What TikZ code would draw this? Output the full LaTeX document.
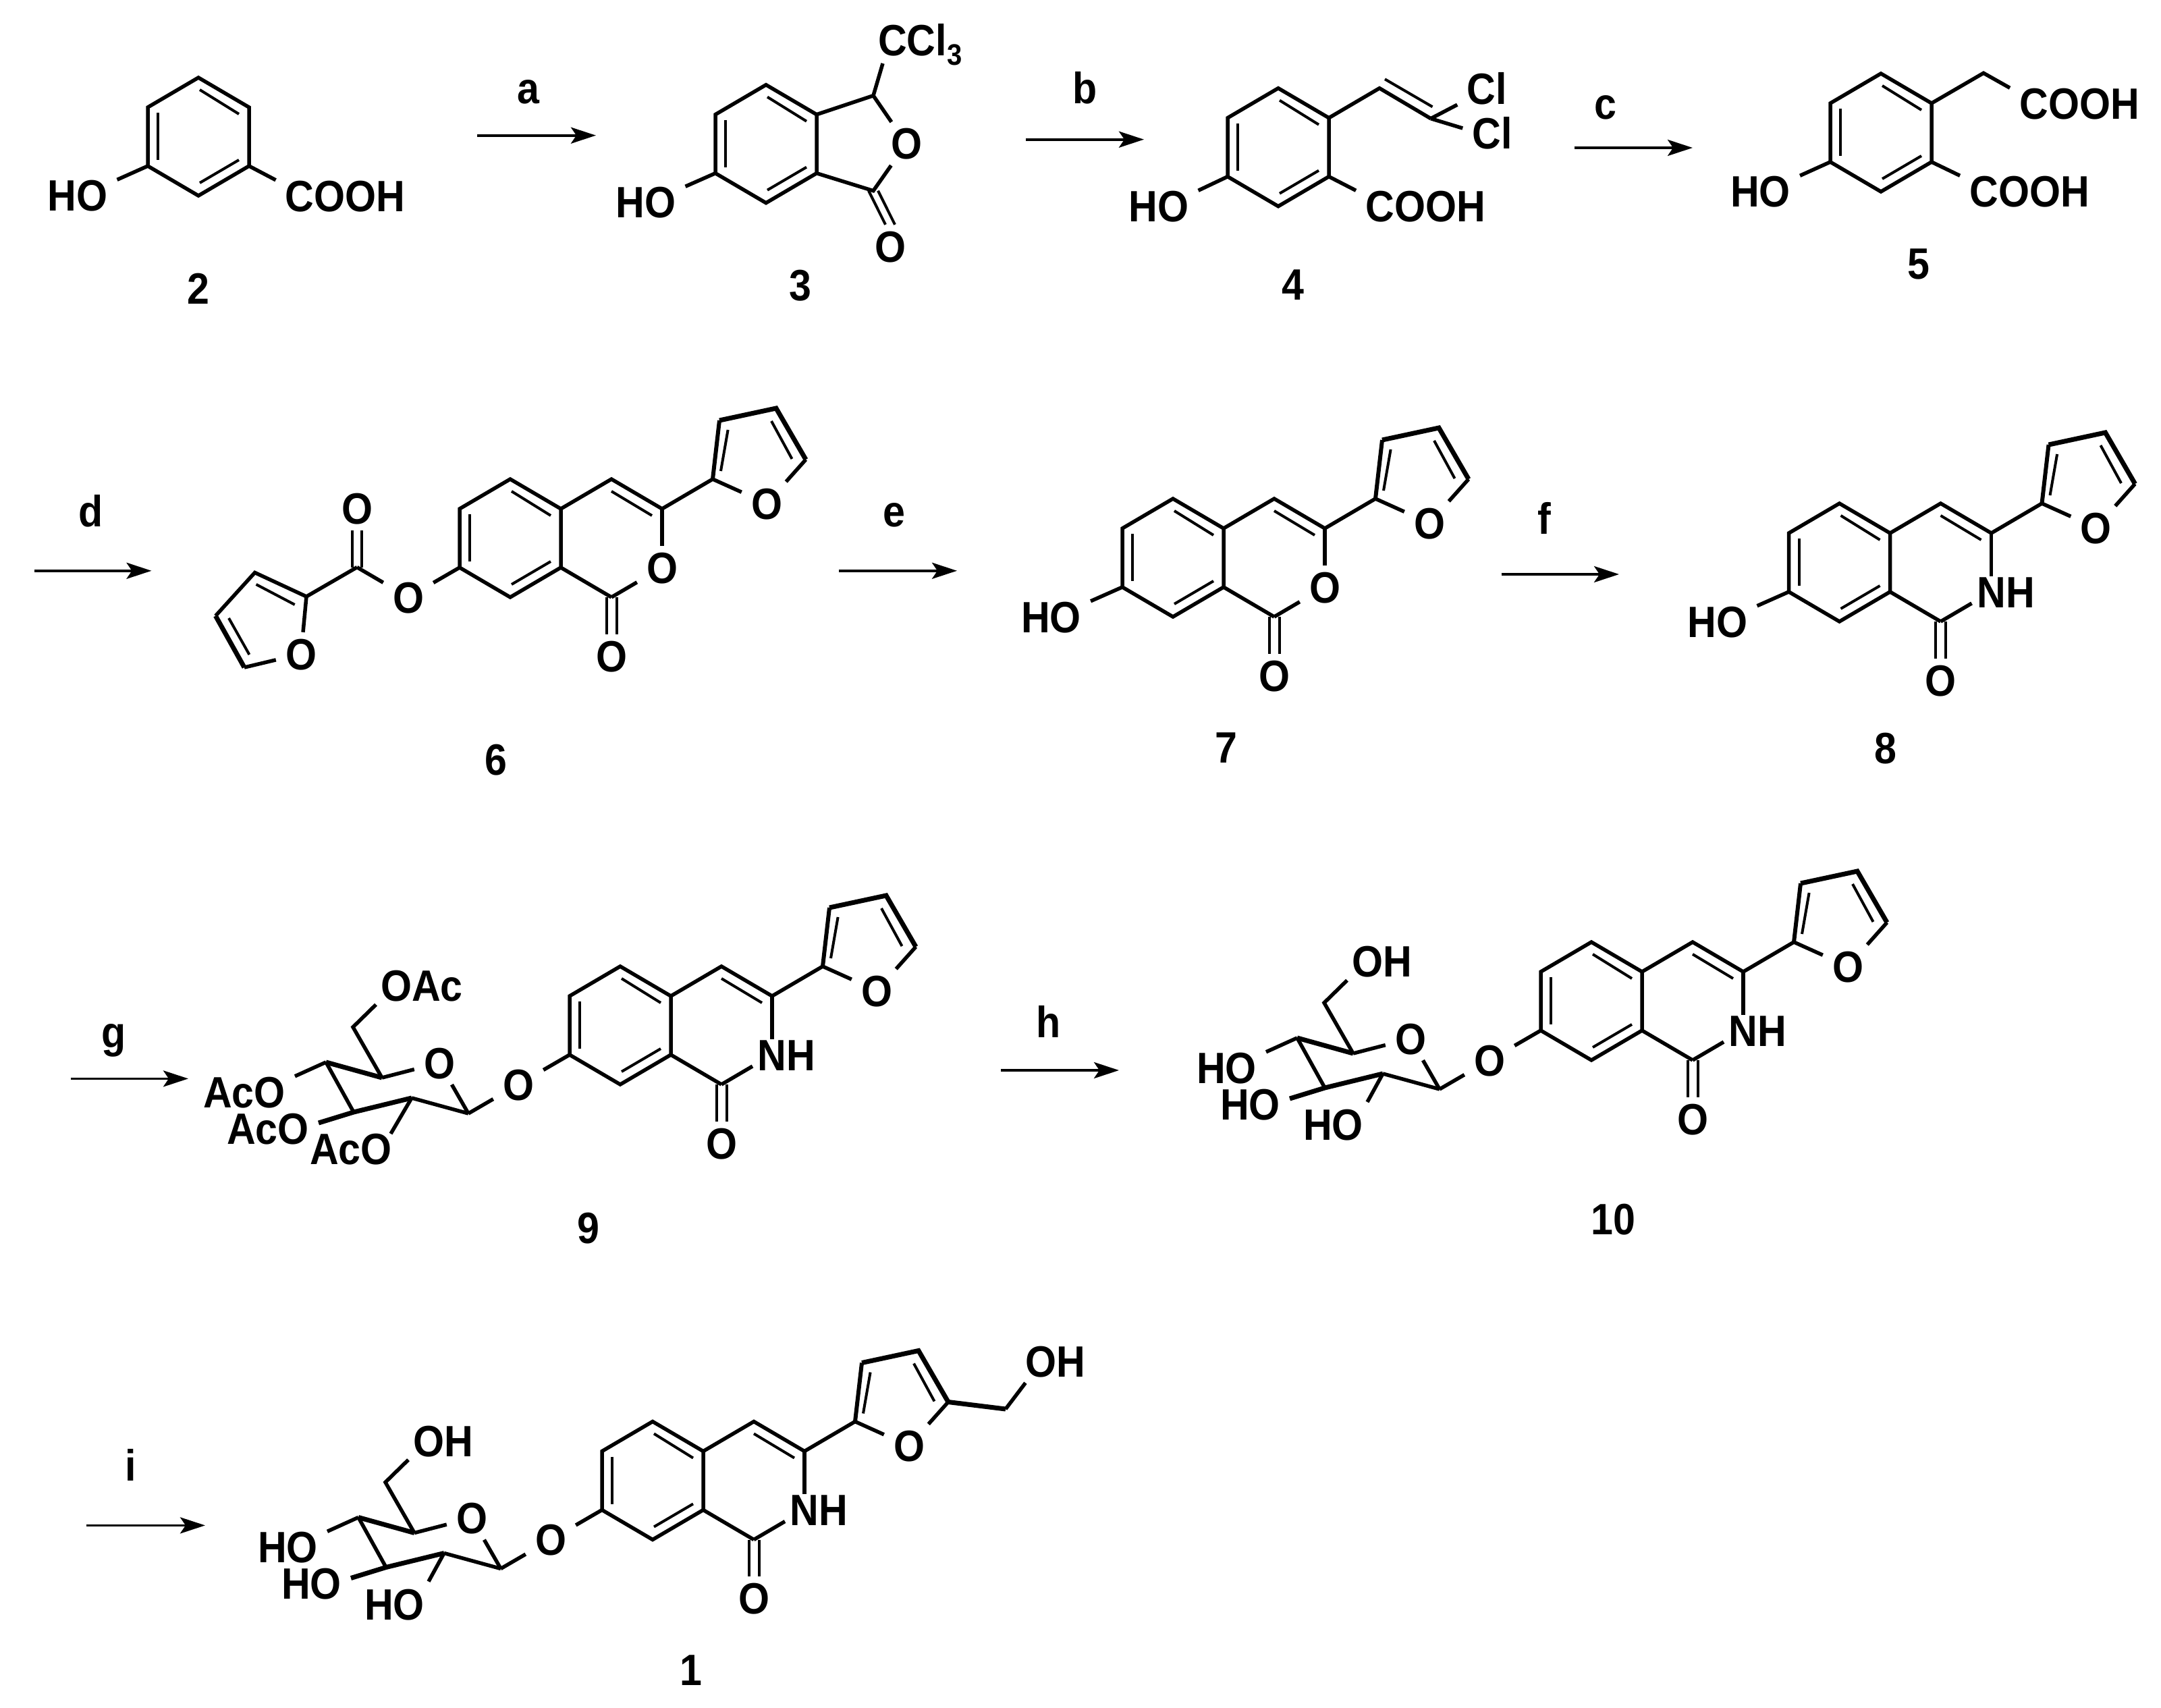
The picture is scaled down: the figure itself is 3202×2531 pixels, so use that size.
\documentclass[tikz,border=0pt]{standalone}
\usepackage{fontspec}
\setmainfont{Liberation Sans}[BoldFeatures={FakeStretch=0.91}]
\usetikzlibrary{arrows.meta}
\tikzset{
  bond/.style={line width=5.5pt,line join=miter,black},
  innerbond/.style={line width=4pt,black},
  boldbond/.style={line width=7pt,line join=miter,black},
  lab/.style={font=\fontsize{65}{65}\selectfont\bfseries,inner xsep=14pt,inner ysep=0pt,text height=46pt,text depth=0pt},
  atom/.style={font=\fontsize{65}{65}\selectfont\bfseries,inner sep=0pt,minimum width=74pt,minimum height=64pt,text height=46pt,text depth=0pt},
  letter/.style={font=\fontsize{65}{65}\selectfont\bfseries,inner sep=0pt,anchor=base},
  rxn/.style={line width=3.8pt,-{Stealth[length=37pt,width=24pt,inset=8pt]},black}
}
% benzene ring; T is the top atom
\newcommand\hexring{%
  \coordinate (T) at (0,0);
  \coordinate (RT) at (75,44);
  \coordinate (RB) at (75,131);
  \coordinate (B) at (0,175);
  \coordinate (LB) at (-75,131);
  \coordinate (LT) at (-75,44);
  \draw[bond] (T)--(RT)--(RB)--(B)--(LB)--(LT)--cycle;
  \draw[innerbond] (2,18)--(60,54);
  \draw[innerbond] (-60,52)--(-60,122);
  \draw[innerbond] (60,122)--(2,156);
}
% fused ring with furan
\newcommand\isoqcore{%
  \hexring
  \coordinate (C4) at (150,0);
  \coordinate (C3) at (225,44);
  \coordinate (C1) at (150,175);
  \coordinate (F2) at (300,0);
  \coordinate (F3) at (310,-87);
  \coordinate (F4) at (394,-105);
  \coordinate (F5) at (438,-29);
  \node[atom] (CO) at (150,262) {O};
  \node[atom] (FO) at (380,36) {O};
  \draw[bond] (RT)--(C4)--(C3)--(F2);
  \draw[bond] (RB)--(C1);
  \draw[innerbond] (150,18)--(210,54);
  \draw[innerbond] ([xshift=-7.5pt]C1)--([xshift=-7.5pt]CO.north);
  \draw[innerbond] ([xshift=7.5pt]C1)--([xshift=7.5pt]CO.north);
  \draw[bond] (F2)--(FO);
  \draw[bond] (F5)--(FO);
  \draw[bond,line width=6pt] (F2)--(F3);
  \draw[boldbond] (F3)--(F4)--(F5);
  \draw[innerbond] (322.6,-73)--(312,-12);
  \draw[innerbond] (387,-86)--(417.5,-30);
}
\newcommand\hetO{%
  \node[atom] (X) at (225,131) {O};
  \draw[bond] (C3)--(X);
  \draw[bond] (C1)--(X);
}
\newcommand\hetNH{%
  \node[lab] (X) at (246.5,131) {NH};
  \coordinate (Xe) at (196,148);
  \draw[bond] (C3)--(C3 |- X.north);
  \draw[bond] (C1)--(Xe);
}
% sugar: #1 ring OH label, #2 CH2 label, #3,#4 free end of third bond
\newcommand\sugar[4]{%
  \node[atom] (OL) at (-151,175) {O};
  \coordinate (S1) at (-225,218);
  \coordinate (S2) at (-309,195);
  \coordinate (S3) at (-395,216);
  \coordinate (S4) at (-436,142);
  \coordinate (S5) at (-353,165);
  \coordinate (S6) at (-396,90);
  \coordinate (e3) at (#3,#4);
  \node[atom] (RO) at (-268,143) {O};
  \node[lab,anchor=east] (L1) at (-482,186) {#1};
  \node[lab,anchor=east] (L2) at (-447,240) {#1};
  \node[lab,anchor=east] (L3) at (-324,270.5) {#1};
  \node[lab,anchor=west] (L6) at (-369,28.5) {#2};
  \draw[bond] (LB)--(OL);
  \draw[bond] (S1)--(OL);
  \draw[bond] (S1)--(RO);
  \draw[bond] (S5)--(RO);
  \draw[bond] (S1)--(S2);
  \draw[boldbond] (S4)--(S5);
  \draw[boldbond] (S2)--(S3)--([yshift=8pt]L2.east);
  \draw[bond] (S4)--(S3);
  \draw[bond] (S5)--(S6)--([xshift=7pt,yshift=-5pt]L6.south west);
  \draw[bond] (S4)--(L1.north east);
  \draw[bond] (S2)--(e3);
}
\newcommand\hoL{%
  \node[lab] (HO) at (-180.5,175) {HO};
  \draw[bond] (LB)--(HO.north east);
}
\begin{document}
\begin{tikzpicture}[x=1pt,y=-1pt]
\useasboundingbox (0,0) rectangle (3202,2531);
\fill[white] (0,0) rectangle (3202,2531);

% ---- compound 2
\begin{scope}[shift={(294,115)},name prefix=m2-]
  \hexring
  \node[lab] (HO) at (-179,174.5) {HO};
  \node[lab] (AC) at (217.5,175) {COOH};
  \draw[bond] (LB)--(HO.north east);
  \draw[bond] (RB)--(AC.north west);
\end{scope}
\node[lab] (n2) at (294,427) {2};

% ---- compound 3
\begin{scope}[shift={(1135,125.7)},name prefix=m3-]
  \hexring
  \coordinate (C9) at (159,16);
  \coordinate (C1) at (159,157);
  \node[atom] (RO) at (208,87.3) {O};
  \node[atom] (CO) at (184,239.3) {O};
  \node[lab] (HO) at (-178,173.8) {HO};
  \node[lab,anchor=west] (CC) at (152,-65.7) {CCl\raisebox{-14pt}{\fontsize{44}{44}\selectfont 3}};
  \coordinate (CCe) at (173,-31.7);
  \draw[bond] (LB)--(HO.north east);
  \draw[bond] (RT)--(C9)--(CCe);
  \draw[bond] (C9)--(RO);
  \draw[bond] (RB)--(C1)--(RO);
  \draw[innerbond] ([xshift=-7pt]C1)--([xshift=-7pt]CO.north);
  \draw[innerbond] ([xshift=7pt]C1)--([xshift=7pt]CO.north);
\end{scope}
\node[lab] (n3) at (1186,422) {3};

% ---- compound 4
\begin{scope}[shift={(1894,130.7)},name prefix=m4-]
  \hexring
  \coordinate (V1) at (150,0);
  \coordinate (V2) at (226,45);
  \node[lab] (HO) at (-177,174.8) {HO};
  \node[lab] (AC) at (218,174.8) {COOH};
  \node[lab] (Cl1) at (309,1.3) {Cl};
  \node[lab] (Cl2) at (317,67.3) {Cl};
  \draw[bond] (LB)--(HO.north east);
  \draw[bond] (RB)--(AC.north west);
  \draw[bond] (RT)--(V1)--(V2);
  \draw[innerbond] (158,-13.4)--(228.5,27.6);
  \draw[bond] (V2)--(Cl1.south west);
  \draw[bond] (V2)--([yshift=8pt]Cl2.west);
\end{scope}
\node[lab] (n4) at (1916,421) {4};

% ---- compound 5
\begin{scope}[shift={(2787,109)},name prefix=m5-]
  \hexring
  \coordinate (CH) at (152,-0.7);
  \node[lab] (HO) at (-178.5,174.5) {HO};
  \node[lab] (AC) at (220,174.5) {COOH};
  \node[lab] (AD) at (294,44.5) {COOH};
  \draw[bond] (LB)--(HO.north east);
  \draw[bond] (RB)--(AC.north west);
  \draw[bond] (RT)--(CH)--(AD.north west);
\end{scope}
\node[lab] (n5) at (2843,390.7) {5};

% ---- compound 6
\begin{scope}[shift={(756,710)},name prefix=m6-]
  \isoqcore
  \hetO
  \node[atom] (OL) at (-151,175) {O};
  \draw[bond] (LB)--(OL);
\end{scope}
\coordinate (est) at (529,840.6);
\coordinate (g2) at (454,884);
\coordinate (g3) at (377.6,848.5);
\coordinate (g4) at (319.4,912.6);
\coordinate (g5) at (362,989);
\node[atom] (gO) at (446,969) {O};
\node[atom] (eO) at (529,753.6) {O};
\draw[bond] (est)--(m6-OL);
\draw[bond] (est)--(g2);
\draw[innerbond] ([xshift=-7pt]est)--([xshift=-7pt]eO.south);
\draw[innerbond] ([xshift=7pt]est)--([xshift=7pt]eO.south);
\draw[bond] (gO)--(g2)--(g3)--(g4);
\draw[boldbond] (g4)--(g5);
\draw[bond] (g5)--(gO);
\draw[innerbond] (436.7,896)--(379.6,866);
\draw[innerbond] (339,916)--(369.4,970);
\node[lab] (n6) at (734.7,1125) {6};

% ---- compound 7
\begin{scope}[shift={(1738,739)},name prefix=m7-]
  \isoqcore
  \hetO
  \hoL
\end{scope}
\node[lab] (n7) at (1817,1107.5) {7};

% ---- compound 8
\begin{scope}[shift={(2725.5,746)},name prefix=m8-]
  \isoqcore
  \hetNH
  \hoL
\end{scope}
\node[lab] (n8) at (2794,1108) {8};

% ---- compound 9
\begin{scope}[shift={(919,1432)},name prefix=m9-]
  \isoqcore
  \hetNH
  \sugar{AcO}{OAc}{-340}{248}
\end{scope}
\node[lab] (n9) at (872,1819) {9};

% ---- compound 10
\begin{scope}[shift={(2358,1396)},name prefix=m10-]
  \isoqcore
  \hetNH
  \sugar{HO}{OH}{-332}{237}
\end{scope}
\node[lab] (n10) at (2390,1806) {10};

% ---- compound 1
\begin{scope}[shift={(967,2106.5)},name prefix=m1-]
  \isoqcore
  \hetNH
  \sugar{HO}{OH}{-332}{237}
  \coordinate (CH) at (523,-18.5);
  \node[lab] (HM) at (597,-89.5) {OH};
  \draw[boldbond] (F5)--(CH);
  \draw[bond] (CH)--([xshift=14pt,yshift=-9pt]HM.south west);
\end{scope}
\node[lab] (n1) at (1023.5,2474.7) {1};

% ---- arrows and their letters
\coordinate (a0) at (707,200.7);  \coordinate (a1) at (883,200.7);
\coordinate (b0) at (1520,206.7); \coordinate (b1) at (1695,206.7);
\coordinate (c0) at (2332.6,219); \coordinate (c1) at (2508,219);
\coordinate (d0) at (51,845.8);   \coordinate (d1) at (224.5,845.8);
\coordinate (e0) at (1243,845.8); \coordinate (e1) at (1418,845.8);
\coordinate (f0) at (2224.5,851); \coordinate (f1) at (2399,851);
\coordinate (g0) at (105,1598.4); \coordinate (g1) at (279,1598.4);
\coordinate (h0) at (1483,1586);  \coordinate (h1) at (1658,1586);
\coordinate (i0) at (127.5,2260.4); \coordinate (i1) at (304,2260.4);
\draw[rxn] (a0)--(a1);
\draw[rxn] (b0)--(b1);
\draw[rxn] (c0)--(c1);
\draw[rxn] (d0)--(d1);
\draw[rxn] (e0)--(e1);
\draw[rxn] (f0)--(f1);
\draw[rxn] (g0)--(g1);
\draw[rxn] (h0)--(h1);
\draw[rxn] (i0)--(i1);
\node[letter] (la) at (783,153.3) {a};
\node[letter] (lb) at (1608,153.3) {b};
\node[letter] (lc) at (2378.6,176.7) {c};
\node[letter] (ld) at (134.7,780) {d};
\node[letter] (le) at (1324.5,780) {e};
\node[letter] (lf) at (2288.8,791) {f};
\node[letter] (lg) at (169,1552.5) {g};
\node[letter] (lh) at (1553.6,1537.6) {h};
\node[letter] (li) at (194,2194) {i};
\end{tikzpicture}
\end{document}
